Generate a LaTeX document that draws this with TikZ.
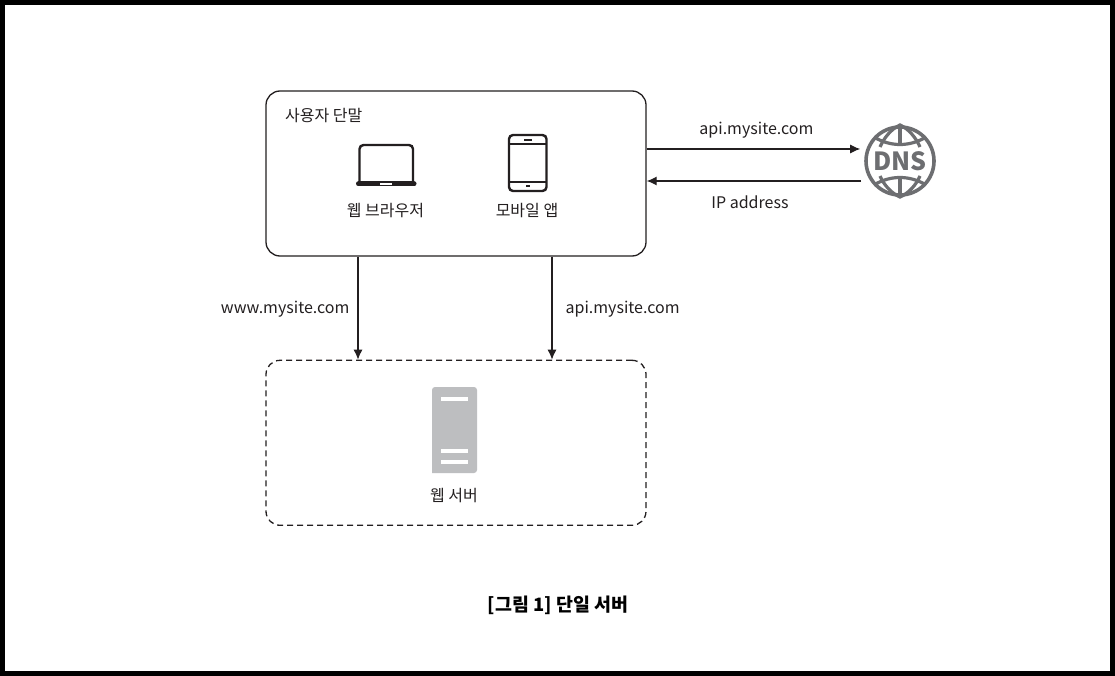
\documentclass[tikz,border=0pt]{standalone}
\usepackage{fontspec}
\setmainfont{Noto Sans CJK KR}
\usetikzlibrary{arrows.meta, positioning, calc}
\definecolor{icongray}{RGB}{109,110,113}
\definecolor{servergray}{RGB}{189,190,192}
\definecolor{linkblack}{RGB}{35,31,32}
\begin{document}
\begin{tikzpicture}[
  x=1pt, y=-1pt,
  lbl/.style={font=\fontsize{16}{18}\selectfont, text=linkblack, inner sep=0pt},
  groupbox/.style={draw=linkblack, line width=1.3pt, rounded corners=14pt, minimum width=380pt, minimum height=165pt, inner sep=0pt},
  link/.style={-{Latex[length=10pt,width=9pt]}, draw=linkblack, line width=1.15pt},
  bar/.style={white, line width=3.4pt},
  globe/.style={draw=icongray, line width=3.2pt},
  dnsnode/.style={circle, draw=icongray, line width=3.6pt, minimum size=68pt, inner sep=0pt, text=icongray, font=\fontsize{25}{27}\selectfont\bfseries},
]
\fill[black] (0,0) rectangle (1115,676);
\fill[white] (5,5) rectangle (1110,671);

\node[groupbox] (client) at (456,173.5) {};
\node[groupbox, dashed, dash pattern=on 6pt off 4pt, below=103pt of client] (server) {};
\node[dnsnode] (dns) at (900,161) {DNS};

\node[lbl, anchor=west] (clienttxt) at (285,116) {사용자 단말};
\node[lbl] (webtxt) at (385.5,210.5) {웹 브라우저};
\node[lbl] (apptxt) at (527,210.5) {모바일 앱};
\node[lbl] (servertxt) at (454,496) {웹 서버};
\node[font=\fontsize{18.4}{20}\selectfont\bfseries, text=black, inner sep=0pt] (title) at (558,605) {[그림 1] 단일 서버};

% laptop
\draw[linkblack, line width=2.4pt, rounded corners=4pt] (359.5,181) -- (359.5,145) -- (413,145) -- (413,181);
\draw[linkblack, line width=5pt, line cap=round] (358.5,184) -- (414,184);
\draw[white, line width=2.4pt] (380,184) -- (392,184);

% phone
\draw[linkblack, line width=2.4pt, rounded corners=4pt] (509,135) rectangle (546.5,191);
\draw[linkblack, line width=1.6pt] (509,144) -- (546.5,144) (509,182) -- (546.5,182);
\draw[linkblack, line width=2pt] (524,140) -- (532,140) (526,186.5) -- (530,186.5);

% server
\fill[servergray, rounded corners=3pt] (432,473) -- (432,387) -- (477,387) -- (477,473) [sharp corners] -- cycle;
\draw[bar] (441,399) -- (468,399) (441,451) -- (468,451) (441,462) -- (468,462);

% globe
\draw[globe] (dns.center) ++(0,-36) -- ++(0,21) (dns.center) ++(0,36) -- ++(0,-19);
\draw[globe] (880,147) .. controls (884,138) and (891,129) .. (900,125) .. controls (909,129) and (916,138) .. (920,147);
\draw[globe] (880,176) .. controls (884,185) and (891,193) .. (900,197) .. controls (909,193) and (916,185) .. (920,176);
\draw[globe] (874,137) .. controls (890,147) and (910,147) .. (926,137);
\draw[globe] (874,185) .. controls (890,175) and (910,175) .. (926,185);

\draw[link] ([yshift=24.5pt]client.east) -- node[lbl, above=12pt, xshift=3pt, yshift=-2pt] {api.mysite.com} ([shift={(-4pt,12pt)}]dns.west);
\draw[link] ([shift={(-3pt,-20pt)}]dns.west) -- node[lbl, below=13pt, xshift=-4pt, yshift=-1.5pt] {IP address} ([yshift=-7.5pt]client.east);
\draw[link] ([xshift=-98pt]client.south) -- node[lbl, left=8pt, yshift=-1pt] {www.mysite.com} ([xshift=-98pt]server.north);
\draw[link] ([xshift=96pt]client.south) -- node[lbl, right=13pt, yshift=-1pt] {api.mysite.com} ([xshift=96pt]server.north);
\end{tikzpicture}
\end{document}
